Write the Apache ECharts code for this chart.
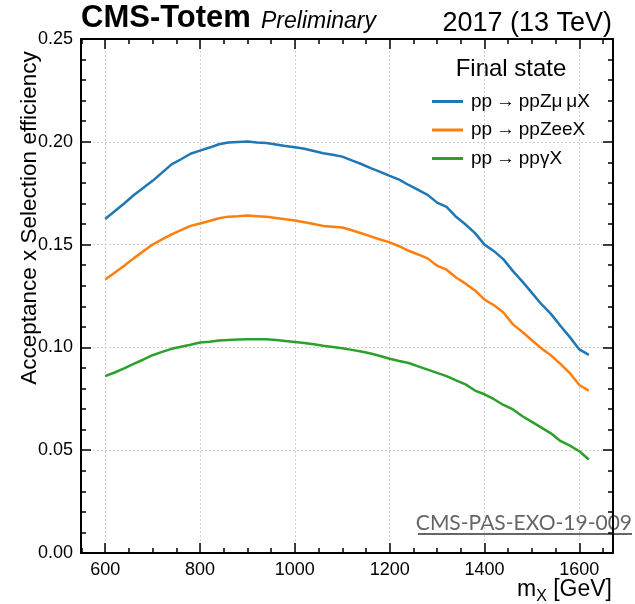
<!DOCTYPE html>
<html>
<head>
<meta charset="utf-8">
<script src="https://cdn.jsdelivr.net/npm/echarts@6/dist/echarts.min.js"></script>
<style>html,body{margin:0;padding:0;background:#fff;}#c{width:635px;height:604px;}</style>
</head>
<body>
<div id="c"></div>
<script>
const massX = [600,620,640,660,680,700,720,740,760,780,800,820,840,860,880,900,920,940,960,980,1000,1020,1040,1060,1080,1100,1120,1140,1160,1180,1200,1220,1240,1260,1280,1300,1320,1340,1360,1380,1400,1420,1440,1460,1480,1500,1520,1540,1560,1580,1600,1620];
const effZmumu = [0.1625,0.1662,0.1700,0.1740,0.1775,0.1810,0.1850,0.1890,0.1915,0.1942,0.1957,0.1972,0.1988,0.1997,0.1999,0.2001,0.1997,0.1994,0.1987,0.1980,0.1974,0.1966,0.1955,0.1944,0.1937,0.1928,0.1910,0.1892,0.1872,0.1854,0.1834,0.1816,0.1790,0.1766,0.1742,0.1704,0.1683,0.1635,0.1598,0.1556,0.1500,0.1468,0.1428,0.1371,0.1320,0.1265,0.1210,0.1163,0.1105,0.1050,0.0990,0.0964];
const effZee = [0.1330,0.1363,0.1397,0.1433,0.1467,0.1500,0.1525,0.1550,0.1570,0.1591,0.1603,0.1615,0.1628,0.1636,0.1638,0.1641,0.1638,0.1635,0.1629,0.1623,0.1617,0.1609,0.1600,0.1591,0.1587,0.1583,0.1570,0.1555,0.1540,0.1525,0.1511,0.1492,0.1470,0.1452,0.1433,0.1397,0.1378,0.1340,0.1310,0.1277,0.1232,0.1205,0.1170,0.1112,0.1075,0.1035,0.0995,0.0962,0.0920,0.0875,0.0817,0.0790];
const effGamma = [0.0860,0.0878,0.0898,0.0920,0.0940,0.0962,0.0978,0.0993,0.1003,0.1013,0.1024,0.1028,0.1034,0.1036,0.1038,0.1040,0.1040,0.1040,0.1036,0.1031,0.1026,0.1021,0.1015,0.1008,0.1002,0.0996,0.0988,0.0980,0.0970,0.0958,0.0945,0.0934,0.0924,0.0908,0.0892,0.0876,0.0860,0.0840,0.0820,0.0790,0.0772,0.0748,0.0720,0.0698,0.0665,0.0638,0.0610,0.0582,0.0545,0.0522,0.0495,0.0455];
const seriesNames = ['pp\u2009\u2192\u2009ppZ\u03bc\u2009\u03bcX','pp\u2009\u2192\u2009ppZeeX','pp\u2009\u2192\u2009pp\u03b3X'];
const xMajorTicks = [600,800,1000,1200,1400,1600];
const xMinorTicks = [550,650,700,750,850,900,950,1050,1100,1150,1250,1300,1350,1450,1500,1550,1650];
const xRange = [549,1671];
const yRange = [0,0.25];
const yStep = 0.05;

const chart = echarts.init(document.getElementById('c'), null, {renderer:'canvas'});
const FONT = '"Liberation Sans", Arial, Helvetica, sans-serif';
const colors = ['#1f77b4','#ff7f0e','#2ca02c'];
const gridPos = {left:81, right:22, top:39, bottom:51};
const lineBlack = {color:'#000', width:2};
const tickStyle = {color:'#000', width:1.5};
function pairs(ys){ return massX.map((x,i)=>[x, ys[i]]); }

const xBase = {type:'value', min:xRange[0], max:xRange[1], splitLine:{show:false}};
chart.setOption({
  animation:false,
  color:colors,
  textStyle:{fontFamily:FONT},
  grid:[Object.assign({},gridPos), Object.assign({},gridPos)],
  xAxis:[
    Object.assign({}, xBase, {gridIndex:0, position:'bottom',
      axisLine:{show:true, lineStyle:lineBlack, onZero:false},
      axisTick:{show:true, inside:true, length:10, customValues:xMajorTicks, lineStyle:tickStyle},
      axisLabel:{show:true, customValues:xMajorTicks, color:'#000', fontSize:18, fontFamily:FONT, margin:8, formatter:v=>String(v)},
      splitLine:{show:true, lineStyle:{color:'#d0d0d0', type:[2,2], width:1}}}),
    Object.assign({}, xBase, {gridIndex:0, position:'top',
      axisLine:{show:true, lineStyle:lineBlack, onZero:false},
      axisTick:{show:true, inside:false, length:-10, customValues:xMajorTicks, lineStyle:tickStyle},
      axisLabel:{show:false}}),
    Object.assign({}, xBase, {gridIndex:1, position:'bottom',
      axisLine:{show:false, onZero:false},
      axisTick:{show:true, inside:true, length:5, customValues:xMinorTicks, lineStyle:tickStyle},
      axisLabel:{show:false}}),
    Object.assign({}, xBase, {gridIndex:1, position:'top',
      axisLine:{show:false, onZero:false},
      axisTick:{show:true, inside:false, length:-5, customValues:xMinorTicks, lineStyle:tickStyle},
      axisLabel:{show:false}})
  ],
  yAxis:[
    {gridIndex:0, type:'value', position:'left', min:yRange[0], max:yRange[1], interval:yStep,
      axisLine:{show:true, lineStyle:lineBlack, onZero:false},
      axisTick:{show:true, inside:true, length:10, lineStyle:tickStyle},
      minorTick:{show:true, splitNumber:5, length:5, lineStyle:tickStyle},
      axisLabel:{color:'#000', fontSize:18, fontFamily:FONT, margin:8, formatter:v=>v.toFixed(2)},
      splitLine:{show:true, lineStyle:{color:'#d0d0d0', type:[2,2], width:1}}},
    {gridIndex:0, type:'value', position:'right', min:yRange[0], max:yRange[1], interval:yStep,
      axisLine:{show:true, lineStyle:lineBlack, onZero:false},
      axisTick:{show:true, inside:false, length:-10, lineStyle:tickStyle},
      minorTick:{show:true, splitNumber:5, length:-5, lineStyle:tickStyle},
      axisLabel:{show:false}, splitLine:{show:false}},
    {gridIndex:1, type:'value', min:yRange[0], max:yRange[1], show:false}
  ],
  legend:{
    orient:'vertical', left:427, top:87, itemWidth:31, itemHeight:3, itemGap:9.5,
    icon:'rect',
    textStyle:{color:'#000', fontSize:19, fontFamily:FONT, lineHeight:19, padding:[0,0,0,3]},
    data:seriesNames
  },
  series:[
    {name:seriesNames[0], type:'line', xAxisIndex:0, yAxisIndex:0, data:pairs(effZmumu), symbol:'none', lineStyle:{width:2.5}},
    {name:seriesNames[1], type:'line', xAxisIndex:0, yAxisIndex:0, data:pairs(effZee), symbol:'none', lineStyle:{width:2.5}},
    {name:seriesNames[2], type:'line', xAxisIndex:0, yAxisIndex:0, data:pairs(effGamma), symbol:'none', lineStyle:{width:2.5}}
  ],
  graphic:[
    {type:'text', left:81, top:3, style:{text:'CMS-Totem', font:'bold 31px '+FONT, fill:'#000'}},
    {type:'text', left:261, top:10, style:{text:'Preliminary', font:'italic 23px '+FONT, fill:'#000'}},
    {type:'text', right:23, top:10, style:{text:'2017 (13 TeV)', font:'27px '+FONT, fill:'#000'}},
    {type:'text', x:511, y:57, style:{text:'Final state', font:'24px '+FONT, fill:'#000', align:'center'}},
    {type:'text', x:30, y:218, rotation:Math.PI/2, style:{text:'Acceptance x Selection efficiency', font:'22.5px '+FONT, fill:'#000', align:'center', verticalAlign:'middle'}},
    {type:'text', right:23, top:578, style:{text:'{m|m}{s|X}{m| [GeV]}', rich:{m:{fontSize:23, fontFamily:FONT, fill:'#000', verticalAlign:'bottom'}, s:{fontSize:16, fontFamily:FONT, fill:'#000', verticalAlign:'bottom', padding:[0,0,-4,0]}}}},
    {type:'text', right:3, top:513, style:{text:'CMS-PAS-EXO-19-009', font:'21px Lato', fill:'#666'}},
    {type:'line', shape:{x1:418, y1:534, x2:632, y2:534}, style:{stroke:'#666', lineWidth:2}}
  ]
});
</script>
</body>
</html>
